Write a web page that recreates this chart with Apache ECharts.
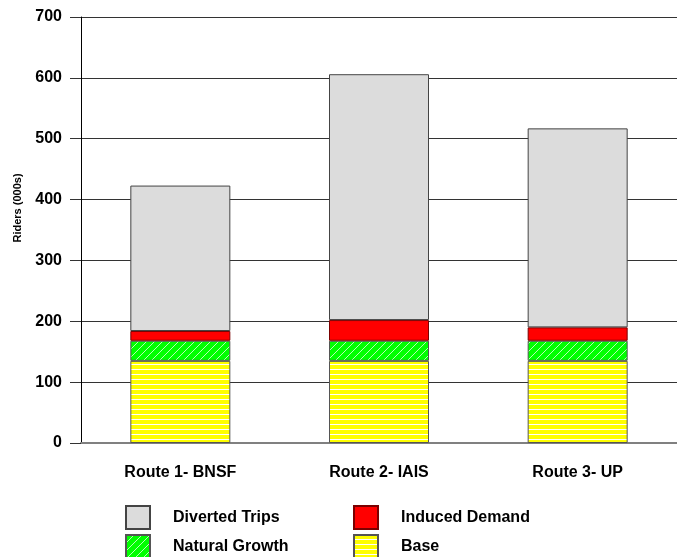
<!DOCTYPE html>
<html>
<head>
<meta charset="utf-8">
<script src="https://cdn.jsdelivr.net/npm/echarts@6/dist/echarts.min.js"></script>
<style>
  html, body { margin: 0; padding: 0; background: #fff; }
  #chart { width: 677px; height: 557px; }
</style>
</head>
<body>
<div id="chart"></div>
<script>
// Ridership by route, in thousands, split into stacked components
const routes = ['Route 1- BNSF', 'Route 2- IAIS', 'Route 3- UP'];
const base = [135, 135, 135];
const naturalGrowth = [33, 33, 33];
const inducedDemand = [16, 34, 22];
const divertedTrips = [239, 404, 327];
const yTicks = [0, 100, 200, 300, 400, 500, 600, 700];

const FONT = '"Liberation Sans", Arial, sans-serif';

// Yellow fill with thin white horizontal stripes
function stripePattern() {
  const c = document.createElement('canvas');
  c.width = 8; c.height = 5;
  const g = c.getContext('2d');
  g.fillStyle = '#ffff00';
  g.fillRect(0, 0, 8, 5);
  g.fillStyle = '#ffffff';
  g.fillRect(0, 4, 8, 1);
  return c;
}

// Green fill with light diagonal hatching
function hatchPattern() {
  const c = document.createElement('canvas');
  c.width = 8; c.height = 8;
  const g = c.getContext('2d');
  g.fillStyle = '#00ff00';
  g.fillRect(0, 0, 8, 8);
  g.strokeStyle = '#e0ffe0';
  g.lineWidth = 0.8;
  g.beginPath();
  g.moveTo(-1, 9); g.lineTo(9, -1);
  g.stroke();
  return c;
}

const chart = echarts.init(document.getElementById('chart'), null, { renderer: 'canvas' });

const legendText = { fontFamily: FONT, fontSize: 16, fontWeight: 'bold', color: '#000', padding: [3, 0, 0, 18] };
function legendAt(name, left, top) {
  return {
    data: [name], left: left, top: top, padding: 0,
    icon: 'rect', itemWidth: 24, itemHeight: 23,
    textStyle: legendText, selectedMode: false
  };
}

function seriesOf(name, data, color, border) {
  return {
    name: name, type: 'bar', stack: 'riders', data: data,
    barWidth: 100,
    itemStyle: { color: color, borderColor: border, borderWidth: 1 },
    emphasis: { disabled: true }
  };
}

chart.setOption({
  animation: false,
  backgroundColor: '#fff',
  grid: { left: 81, right: -4, top: 17, bottom: 114, containLabel: false },
  legend: [
    legendAt('Diverted Trips', 125, 505),
    legendAt('Induced Demand', 353, 505),
    legendAt('Natural Growth', 125, 534),
    legendAt('Base', 353, 534)
  ],
  xAxis: {
    type: 'category',
    data: routes,
    axisLine: { lineStyle: { color: '#808080', width: 2 } },
    axisTick: { alignWithLabel: true, length: 10, lineStyle: { color: '#333' } },
    axisLabel: { margin: 22, fontFamily: FONT, fontSize: 16, fontWeight: 'bold', color: '#000' },
    splitLine: { show: false }
  },
  yAxis: {
    type: 'value',
    min: yTicks[0], max: yTicks[yTicks.length - 1], interval: 100,
    axisLine: { show: true, lineStyle: { color: '#000', width: 1 } },
    axisTick: { show: true, length: 11, lineStyle: { color: '#333' } },
    axisLabel: { margin: 19, fontFamily: FONT, fontSize: 16, fontWeight: 'bold', color: '#000' },
    splitLine: { lineStyle: { color: '#333', width: 1 } }
  },
  graphic: [{
    type: 'text', x: 18, y: 208, rotation: Math.PI / 2,
    style: {
      text: 'Riders (000s)', fontFamily: FONT, fontSize: 11, fontWeight: 'bold',
      fill: '#000', align: 'center', verticalAlign: 'middle'
    }
  }],
  series: [
    seriesOf('Base', base, { image: stripePattern(), repeat: 'repeat' }, '#555'),
    seriesOf('Natural Growth', naturalGrowth, { image: hatchPattern(), repeat: 'repeat' }, '#555'),
    seriesOf('Induced Demand', inducedDemand, '#ff0000', '#7a0000'),
    seriesOf('Diverted Trips', divertedTrips, '#dcdcdc', '#444')
  ]
});
</script>
</body>
</html>
